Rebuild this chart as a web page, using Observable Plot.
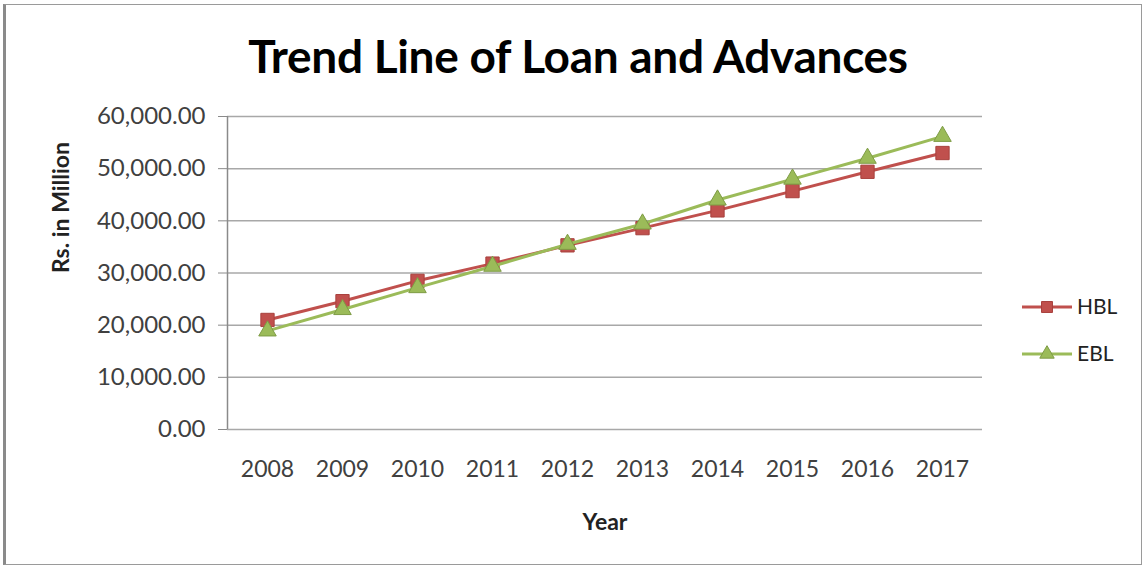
<!DOCTYPE html>
<html><head><meta charset="utf-8">
<script src="https://cdn.jsdelivr.net/npm/d3@7"></script>
<script src="https://cdn.jsdelivr.net/npm/@observablehq/plot@0.6"></script>
<style>
body{margin:0;background:#fff;}
#wrap{position:relative;width:1146px;height:569px;overflow:hidden;font-family:Lato,sans-serif;background:#fff;}
#frame{position:absolute;left:3px;top:4px;width:1135px;height:559px;border:1px solid #9a9a9a;border-left:3px solid #8a8a8a;}
#title{position:absolute;left:0;width:1156px;top:30px;text-align:center;font-weight:bold;font-size:46px;color:#000;line-height:52px;letter-spacing:-0.3px;}
#chart{position:absolute;left:0;top:0;}
#legend{position:absolute;left:1010px;top:285px;}
</style></head>
<body>
<div id="wrap">
  <div id="frame"></div>
  <div id="chart"></div>
  <div id="title">Trend Line of Loan and Advances</div>
  <div id="legend"></div>
</div>
<script>
const years = ["2008","2009","2010","2011","2012","2013","2014","2015","2016","2017"];
const hbl = [21000, 24600, 28500, 31800, 35300, 38600, 42000, 45700, 49400, 53000];
const ebl = [18900, 23000, 27200, 31300, 35500, 39400, 44000, 48000, 52000, 56200];
const seriesNames = ["HBL", "EBL"];
const seriesColors = ["#C0504D", "#9BBB59"];
const markerStrokes = ["#A8403D", "#7E9C45"];
const markerSymbols = ["square", "triangle"];
const yTicks = [0, 10000, 20000, 30000, 40000, 50000, 60000];

const data = [];
years.forEach((y, i) => {
  data.push({year: y, value: hbl[i], series: "HBL"});
  data.push({year: y, value: ebl[i], series: "EBL"});
});
const hblData = data.filter(d => d.series === "HBL");
const eblData = data.filter(d => d.series === "EBL");

const mL = 227, mR = 164;
const frameW = 1146 - mL - mR;

const chart = Plot.plot({
  width: 1146,
  height: 569,
  marginLeft: mL,
  marginRight: mR,
  marginTop: 116,
  marginBottom: 140,
  style: {fontFamily: "Lato, sans-serif", fontSize: "23px", color: "#404040", background: "transparent", overflow: "visible"},
  x: {type: "point", domain: years, padding: 0.5},
  y: {domain: [0, 60000]},
  color: {domain: seriesNames, range: seriesColors},
  marks: [
    Plot.gridY(yTicks, {stroke: "#a8a8a8", strokeOpacity: 1, strokeWidth: 1.5}),
    Plot.axisY(yTicks, {tickFormat: d3.format(",.2f"), tickSize: 9, tickPadding: 13, label: null, stroke: "#8a8a8a", fontSize: 24}),
    Plot.ruleX([0], {x: null, dx: -frameW / 2, stroke: "#8a8a8a", strokeWidth: 1.5}),
    Plot.axisX({tickSize: 0, tickPadding: 31, label: null, fontSize: 23}),
    Plot.text(["Rs. in Million"], {frameAnchor: "left", dx: -166, rotate: -90, fontWeight: "bold", fontSize: 23, fill: "#222"}),
    Plot.text(["Year"], {frameAnchor: "bottom", dy: 100, fontWeight: "bold", fontSize: 23, fill: "#222"}),
    Plot.line(hblData, {x: "year", y: "value", stroke: "series", strokeWidth: 3}),
    Plot.dot(hblData, {x: "year", y: "value", fill: "series", stroke: markerStrokes[0], strokeWidth: 1, symbol: markerSymbols[0], r: 7.5}),
    Plot.line(eblData, {x: "year", y: "value", stroke: "series", strokeWidth: 3}),
    Plot.dot(eblData, {x: "year", y: "value", fill: "series", stroke: markerStrokes[1], strokeWidth: 1, symbol: markerSymbols[1], r: 6.5})
  ]
});
document.getElementById("chart").appendChild(chart);

// Legend
const lg = d3.select("#legend").append("svg").attr("width", 130).attr("height", 90)
  .style("font-family", "Lato, sans-serif");
seriesNames.forEach((name, i) => {
  const cy = 22 + i * 47;
  const g = lg.append("g");
  g.append("line").attr("x1", 12).attr("x2", 62).attr("y1", cy).attr("y2", cy)
    .attr("stroke", seriesColors[i]).attr("stroke-width", 3);
  const sym = i === 0 ? d3.symbolSquare : d3.symbolTriangle;
  const size = i === 0 ? 120 : 90;
  g.append("path").attr("d", d3.symbol(sym, size)()).attr("transform", `translate(37,${cy})`)
    .attr("fill", seriesColors[i]).attr("stroke", markerStrokes[i]);
  g.append("text").attr("x", 67).attr("y", cy).attr("dy", "0.35em")
    .attr("font-size", 21).attr("fill", "#222").text(name);
});
</script>
</body></html>
